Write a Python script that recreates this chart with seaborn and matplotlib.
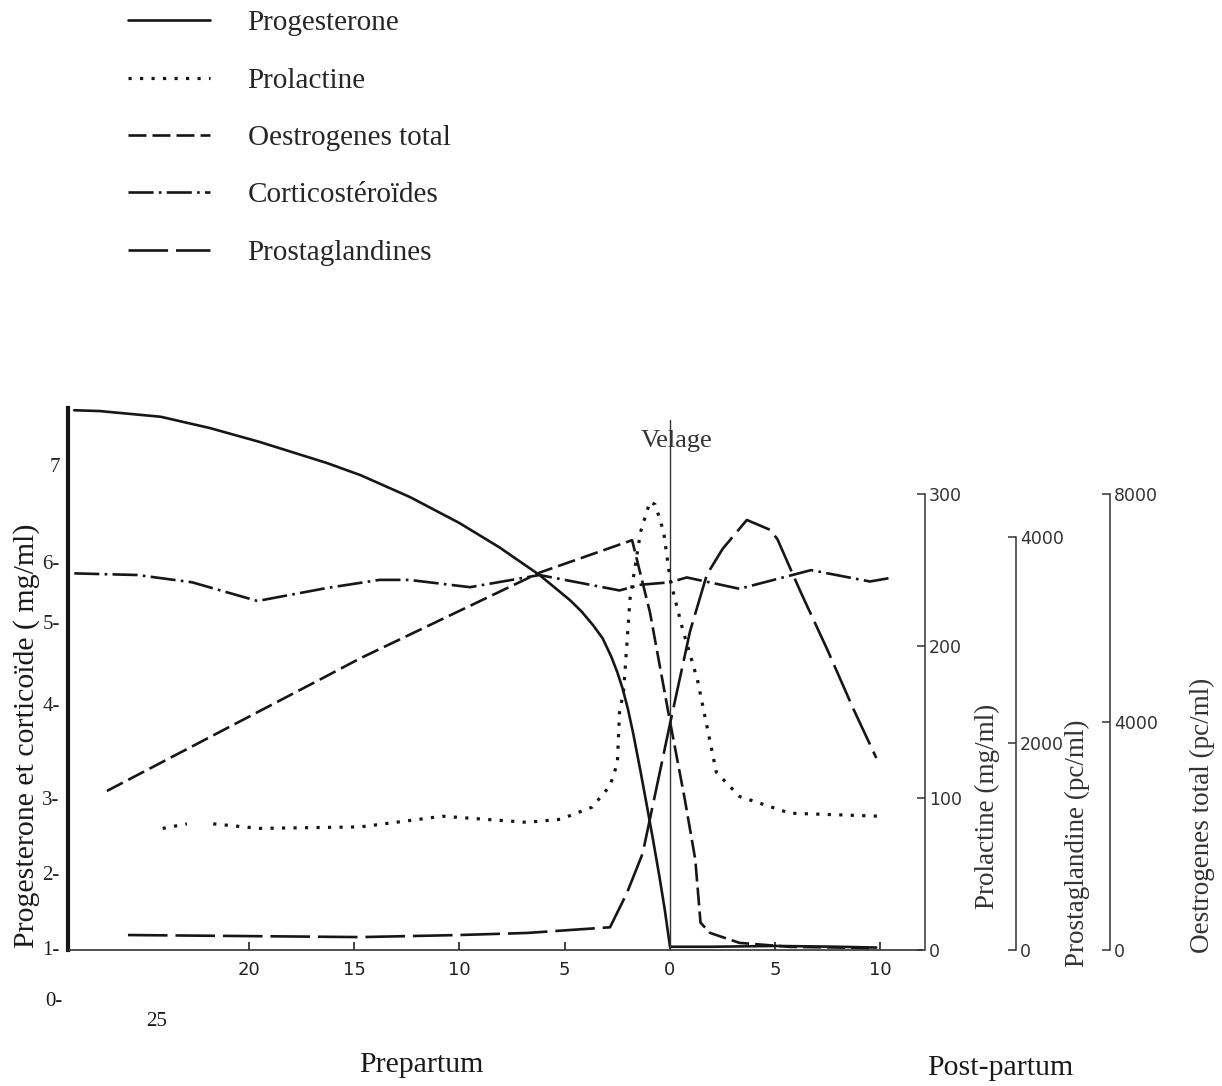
import numpy as np
import pandas as pd
import matplotlib
matplotlib.use("Agg")
import matplotlib.pyplot as plt
from matplotlib.transforms import blended_transform_factory
import seaborn as sns

# ---------------- data (days relative to calving; negative = prepartum) -------------
prog_days = [-28.3, -27.1, -24.2, -21.85, -19.5, -16.3, -14.7, -12.35, -10.0, -8.1, -6.2, -4.75,
             -4.2, -3.65, -3.2, -2.8, -2.5, -2.25, -2.0, -1.75, -1.4, -1.1, -0.8, -0.5, -0.25, 0.0,
             2.0, 5.0, 8.0, 9.8]
prog_vals = [7.65, 7.64, 7.57, 7.43, 7.26, 7.00, 6.85, 6.58, 6.26, 5.96, 5.62, 5.31,
             5.17, 5.00, 4.84, 4.62, 4.42, 4.22, 3.97, 3.67, 3.20, 2.78, 2.35, 1.90, 1.50, 1.04,
             1.04, 1.05, 1.04, 1.03]

cort_days = [-28.3, -25.3, -22.7, -19.6, -16.3, -13.8, -12.4, -9.5, -6.2, -2.4, -1.4, 0.0, 0.8, 3.3, 6.7, 9.5, 10.6]
cort_vals = [5.64, 5.62, 5.53, 5.30, 5.46, 5.56, 5.56, 5.47, 5.62, 5.43, 5.50, 5.53, 5.59, 5.45, 5.68, 5.54, 5.59]

prl_seg1_days = [-24.1, -22.95]
prl_seg1_vals = [80, 83]
prl_seg2_days = [-21.7, -19.5, -14.7, -10.8, -6.8, -5.2, -3.7, -2.85, -2.5, -2.4, -2.2, -1.9, -1.4,
                 -0.95, -0.7, -0.3, 0.0, 0.6, 1.3, 2.2, 3.3, 5.7, 10.0]
prl_seg2_vals = [83, 80, 81, 88, 84, 86, 94, 108, 123, 156, 171, 231, 275,
                 295, 293, 275, 244, 211, 178, 117, 101, 90, 88]

oes_days = [-26.75, -16.5, -14.7, -10.0, -6.2, -1.8, -0.95, 0.0, 0.7, 1.2, 1.45, 1.9, 3.3, 5.7, 9.6]
oes_vals = [2790, 4770, 5120, 5950, 6620, 7190, 5920, 4010, 2650, 1590, 480, 300, 125, 55, 35]

pg_days = [-25.75, -14.7, -10.0, -6.8, -2.85, -2.05, -1.3, 0.0, 0.95, 1.75, 2.5, 3.65, 4.75, 5.1, 6.2, 7.45, 8.7, 9.8]
pg_vals = [145, 125, 145, 165, 220, 550, 935, 2190, 3085, 3635, 3885, 4165, 4070, 3980, 3470, 2920, 2340, 1860]

legend_labels = ["Progesterone", "Prolactine", "Oestrogenes total", "Corticostéroïdes", "Prostaglandines"]

x_tick_days = [-20, -15, -10, -5, 0, 5, 10]
x_tick_labels = ["20", "15", "10", "5", "0", "5", "10"]

left_tick_labels = ["7", "6-", "5-", "4-", "3-", "2-", "1-"]
prl_ticks = [0, 100, 200, 300]
pg_ticks = [0, 2000, 4000]
oes_ticks = [0, 4000, 8000]

# ---------------- layout (pixel based) --------------------------------------------
W, H = 1222, 1086
AX_L, AX_R, AX_B, AX_T = 68, 922, 950, 408
PX_PER_DAY = 21.05
DAY0_PX = 670
LEFT_PX_PER_UNIT = (AX_B - 463) / 6.0
left_tick_px = [465, 562, 622, 704, 798, 873, 948]
left_tick_pos = [1 + (AX_B - p) / LEFT_PX_PER_UNIT for p in left_tick_px]

sns.set_theme(style="white")
plt.rcParams["font.family"] = ["Liberation Serif", "DejaVu Serif"]

INK = "#161616"

fig = plt.figure(figsize=(W / 100, H / 100), dpi=100)
fig.patch.set_facecolor("white")
ax = fig.add_axes([AX_L / W, 1 - AX_B / H, (AX_R - AX_L) / W, (AX_B - AX_T) / H])
ax.set_facecolor("none")

xlim = ((AX_L - DAY0_PX) / PX_PER_DAY, (AX_R - DAY0_PX) / PX_PER_DAY)
ax.set_xlim(*xlim)
ax.set_ylim(1.0, 1 + (AX_B - AX_T) / LEFT_PX_PER_UNIT)

ax2 = ax.twinx()
ax3 = ax.twinx()
ax4 = ax.twinx()
ax2.set_ylim(0, (AX_B - AX_T) / ((AX_B - 494) / 300))
ax3.set_ylim(0, (AX_B - AX_T) / ((AX_B - 537) / 4000))
ax4.set_ylim(0, (AX_B - AX_T) / ((AX_B - 494) / 8000))

LW = 1.9
ls_prog = "-"
ls_prl = (0, (1.0, 2.6))
ls_oes = (0, (6.8, 2.3))
ls_cort = (0, (9.5, 2.0, 1.0, 2.0))
ls_pg = (0, (15, 3))

sns.lineplot(x=prog_days, y=prog_vals, ax=ax, color=INK, linewidth=LW, linestyle=ls_prog, errorbar=None)
h_prog = ax.get_lines()[-1]
sns.lineplot(x=cort_days, y=cort_vals, ax=ax, color=INK, linewidth=LW, linestyle=ls_cort, errorbar=None)
h_cort = ax.get_lines()[-1]

prl_df = pd.DataFrame({
    "day": prl_seg1_days + prl_seg2_days,
    "val": prl_seg1_vals + prl_seg2_vals,
    "seg": [1] * len(prl_seg1_days) + [2] * len(prl_seg2_days),
})
sns.lineplot(data=prl_df, x="day", y="val", units="seg", estimator=None, ax=ax2,
             color=INK, linewidth=2.3, linestyle=ls_prl, errorbar=None)
h_prl = ax2.get_lines()[-1]

sns.lineplot(x=pg_days, y=pg_vals, ax=ax3, color=INK, linewidth=LW, linestyle=ls_pg, errorbar=None)
h_pg = ax3.get_lines()[-1]
sns.lineplot(x=oes_days, y=oes_vals, ax=ax4, color=INK, linewidth=LW, linestyle=ls_oes, errorbar=None)
h_oes = ax4.get_lines()[-1]

for a in (ax2, ax3, ax4):
    a.set_xlim(*xlim)

# Velage line and label
ax.axvline(0, ymin=0, ymax=(AX_B - 420) / (AX_B - AX_T), color="#333333", lw=1.0)
trans = blended_transform_factory(ax.transData, ax.transAxes)
ax.text(0.3, (AX_B - 441) / (AX_B - AX_T), "Velage", transform=trans, ha="center", va="center",
        fontsize=19, color="#333333")

# main axes styling
for s in ("top", "right"):
    ax.spines[s].set_visible(False)
ax.spines["left"].set_linewidth(3.0)
ax.spines["left"].set_color(INK)
ax.spines["bottom"].set_linewidth(1.2)
ax.spines["bottom"].set_color("#333333")
ax.set_xticks(x_tick_days, x_tick_labels)
ax.tick_params(axis="x", direction="in", length=6, width=1.2, pad=8, labelsize=13,
               colors="#222222", bottom=True)
for t in ax.get_xticklabels():
    t.set_family("DejaVu Sans")
ax.set_yticks(left_tick_pos, left_tick_labels)
ax.tick_params(axis="y", length=0, pad=6, labelsize=15, colors="#222222", left=True)
ax.set_ylabel("")
ax.set_xlabel("")

# right axes
for a, pos, ticks in ((ax2, (925 - AX_L) / (AX_R - AX_L), prl_ticks),
                      (ax3, (1016 - AX_L) / (AX_R - AX_L), pg_ticks),
                      (ax4, (1110 - AX_L) / (AX_R - AX_L), oes_ticks)):
    for s in ("left", "top", "bottom"):
        a.spines[s].set_visible(False)
    a.spines["right"].set_position(("axes", pos))
    a.spines["right"].set_bounds(ticks[0], ticks[-1])
    a.spines["right"].set_linewidth(1.1)
    a.spines["right"].set_color("#333333")
    a.set_yticks(ticks, [str(t) for t in ticks])
    a.tick_params(axis="y", right=True, direction="in", length=6, width=1.1, pad=3,
                  labelsize=12.5, colors="#333333")
    for t in a.get_yticklabels():
        t.set_family("DejaVu Sans")
    a.set_ylabel("")
    a.set_xlabel("")

def fx(px):
    return px / W

def fy(py):
    return 1 - py / H

fig.text(fx(27), fy(736), "Progesterone et corticoïde ( mg/ml)", rotation=90, ha="center",
         va="center", fontsize=21.5, color="#1a1a1a")
fig.text(fx(987), fy(806), "Prolactine (mg/ml)", rotation=90, ha="center", va="center",
         fontsize=19.5, color="#333333")
fig.text(fx(1077), fy(843), "Prostaglandine (pc/ml)", rotation=90, ha="center", va="center",
         fontsize=19.5, color="#333333")
fig.text(fx(1202), fy(815), "Oestrogenes total (pc/ml)", rotation=90, ha="center", va="center",
         fontsize=19.5, color="#333333")
fig.text(fx(421), fy(1065), "Prepartum", ha="center", va="center", fontsize=21.5, color="#1a1a1a")
fig.text(fx(1000), fy(1068), "Post-partum", ha="center", va="center", fontsize=21.5, color="#1a1a1a")
fig.text(fx(157), fy(1022), "25", ha="center", va="center", fontsize=15, color="#1a1a1a")
fig.text(fx(62), fy(1002), "0-", ha="right", va="center", fontsize=15, color="#1a1a1a")

fig.legend([h_prog, h_prl, h_oes, h_cort, h_pg], legend_labels,
           loc="upper left", bbox_to_anchor=(fx(128), fy(10)), frameon=False,
           fontsize=21, handlelength=2.8, handletextpad=1.3, labelspacing=1.06,
           borderaxespad=0, borderpad=0)

fig.savefig("out.png", dpi=100, facecolor="white")
